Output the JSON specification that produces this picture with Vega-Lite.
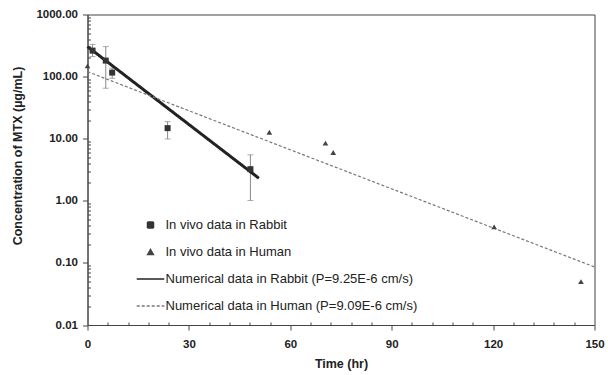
{
  "$schema": "https://vega.github.io/schema/vega-lite/v6.json",
  "width": 507,
  "height": 310.5,
  "autosize": "none",
  "padding": {"left": 87.5, "top": 14.5, "right": 13.5, "bottom": 50},
  "background": "white",
  "datasets": {
    "obs": [
      {"series": "In vivo data in Rabbit", "t": 1.5, "c": 262},
      {"series": "In vivo data in Rabbit", "t": 5.4, "c": 181},
      {"series": "In vivo data in Rabbit", "t": 7.3, "c": 116},
      {"series": "In vivo data in Rabbit", "t": 23.7, "c": 14.8},
      {"series": "In vivo data in Rabbit", "t": 48.2, "c": 3.23},
      {"series": "In vivo data in Human", "t": 0, "c": 149},
      {"series": "In vivo data in Human", "t": 53.8, "c": 12.7},
      {"series": "In vivo data in Human", "t": 70.4, "c": 8.5},
      {"series": "In vivo data in Human", "t": 72.7, "c": 6.0},
      {"series": "In vivo data in Human", "t": 120.3, "c": 0.38},
      {"series": "In vivo data in Human", "t": 146, "c": 0.05}
    ],
    "bars": [
      {"t": 1.5, "c": 210, "c2": 330},
      {"t": 5.4, "c": 65, "c2": 304},
      {"t": 7.3, "c": 94, "c2": 137},
      {"t": 23.7, "c": 9.9, "c2": 18.8},
      {"t": 48.2, "c": 1.01, "c2": 5.5}
    ],
    "caps": [
      {"t": 1.5, "c": 210}, {"t": 1.5, "c": 330},
      {"t": 5.4, "c": 65}, {"t": 5.4, "c": 304},
      {"t": 7.3, "c": 94}, {"t": 7.3, "c": 137},
      {"t": 23.7, "c": 9.9}, {"t": 23.7, "c": 18.8},
      {"t": 48.2, "c": 1.01}, {"t": 48.2, "c": 5.5}
    ],
    "sim": [
      {"series": "Numerical data in Rabbit (P=9.25E-6 cm/s)", "t": 0, "c": 304},
      {"series": "Numerical data in Rabbit (P=9.25E-6 cm/s)", "t": 50.7, "c": 2.31},
      {"series": "Numerical data in Human (P=9.09E-6 cm/s)", "t": 0, "c": 120},
      {"series": "Numerical data in Human (P=9.09E-6 cm/s)", "t": 150, "c": 0.086}
    ]
  },
  "encoding": {
    "x": {
      "field": "t", "type": "quantitative", "title": "Time (hr)",
      "scale": {"domain": [0, 150], "nice": false, "zero": false},
      "axis": {
        "values": [0, 6, 12, 18, 24, 30, 36, 42, 48, 54, 60, 66, 72, 78, 84, 90, 96, 102, 108, 114, 120, 126, 132, 138, 144, 150],
        "labelExpr": "datum.value % 30 == 0 ? datum.label : ''",
        "tickSize": {"condition": {"test": "datum.value % 30 == 0", "value": 5}, "value": -3},
        "labelPadding": 8,
        "labelFlush": false,
        "labelOverlap": false,
        "titlePadding": 8
      }
    },
    "y": {
      "field": "c", "type": "quantitative", "title": "Concentration of MTX (µg/mL)",
      "scale": {"type": "log", "domain": [0.01, 1000], "nice": false},
      "axis": {
        "values": [0.01, 0.02, 0.03, 0.04, 0.05, 0.06, 0.07, 0.08, 0.09, 0.1, 0.2, 0.3, 0.4, 0.5, 0.6, 0.7, 0.8, 0.9, 1, 2, 3, 4, 5, 6, 7, 8, 9, 10, 20, 30, 40, 50, 60, 70, 80, 90, 100, 200, 300, 400, 500, 600, 700, 800, 900, 1000],
        "labelExpr": "abs(log(datum.value)/LN10 - round(log(datum.value)/LN10)) < 0.001 ? format(datum.value, '.2f') : ''",
        "tickSize": {"condition": {"test": "abs(log(datum.value)/LN10 - round(log(datum.value)/LN10)) < 0.001", "value": 5}, "value": -3},
        "labelPadding": 5,
        "labelOverlap": false,
        "labelFlush": false,
        "titleX": -70,
        "titleY": 141,
        "titleBaseline": "middle"
      }
    }
  },
  "layer": [
    {
      "data": {"name": "bars"},
      "mark": {"type": "rule", "color": "#888", "strokeWidth": 1},
      "encoding": {"y2": {"field": "c2"}}
    },
    {
      "data": {"name": "caps"},
      "mark": {"type": "tick", "orient": "horizontal", "color": "#888", "size": 6, "thickness": 1},
      "encoding": {}
    },
    {
      "data": {"name": "sim"},
      "mark": {"type": "line"},
      "encoding": {
        "stroke": {"field": "series", "type": "nominal", "legend": {"title": null},
          "scale": {"domain": ["In vivo data in Rabbit", "In vivo data in Human", "Numerical data in Rabbit (P=9.25E-6 cm/s)", "Numerical data in Human (P=9.09E-6 cm/s)"],
            "range": ["#333333", "#444444", "#222222", "#777777"]}},
        "strokeDash": {"field": "series", "type": "nominal", "legend": {"title": null},
          "scale": {"domain": ["In vivo data in Rabbit", "In vivo data in Human", "Numerical data in Rabbit (P=9.25E-6 cm/s)", "Numerical data in Human (P=9.09E-6 cm/s)"],
            "range": [[1, 0], [1, 0], [1, 0], [3, 2]]}},
        "strokeWidth": {"field": "series", "type": "nominal", "legend": null,
          "scale": {"type": "ordinal", "domain": ["Numerical data in Rabbit (P=9.25E-6 cm/s)", "Numerical data in Human (P=9.09E-6 cm/s)"], "range": [3, 1.2]}}
      }
    },
    {
      "data": {"name": "obs"},
      "mark": {"type": "point", "filled": true, "opacity": 1},
      "encoding": {
        "shape": {"field": "series", "type": "nominal", "legend": {"title": null},
          "scale": {"domain": ["In vivo data in Rabbit", "In vivo data in Human", "Numerical data in Rabbit (P=9.25E-6 cm/s)", "Numerical data in Human (P=9.09E-6 cm/s)"],
            "range": ["square", "triangle-up", "stroke", "stroke"]}},
        "size": {"field": "series", "type": "nominal", "legend": {"title": null},
          "scale": {"type": "ordinal", "domain": ["In vivo data in Rabbit", "In vivo data in Human", "Numerical data in Rabbit (P=9.25E-6 cm/s)", "Numerical data in Human (P=9.09E-6 cm/s)"],
            "range": [36, 32, 760, 760]}},
        "fill": {"field": "series", "type": "nominal", "legend": {"title": null},
          "scale": {"domain": ["In vivo data in Rabbit", "In vivo data in Human", "Numerical data in Rabbit (P=9.25E-6 cm/s)", "Numerical data in Human (P=9.09E-6 cm/s)"],
            "range": ["#333333", "#444444", "#222222", "#777777"]}}
      }
    }
  ],
  "config": {
    "view": {"stroke": "#444", "strokeWidth": 1},
    "axis": {
      "grid": false,
      "domainColor": "#444",
      "tickColor": "#444",
      "labelFont": "Liberation Sans",
      "labelFontWeight": "bold",
      "labelFontSize": 11.5,
      "labelColor": "#222",
      "titleFont": "Liberation Sans",
      "titleFontWeight": "bold",
      "titleFontSize": 12.5,
      "titleColor": "#222"
    },
    "legend": {
      "orient": "none",
      "legendX": 48,
      "legendY": 197,
      "padding": 0,
      "clipHeight": 27,
      "labelFont": "Liberation Sans",
      "labelFontSize": 13,
      "labelColor": "#222",
      "labelOffset": 0,
      "labelLimit": 0,
      "rowPadding": 0,
      "symbolStrokeWidth": 1.5
    }
  }
}
